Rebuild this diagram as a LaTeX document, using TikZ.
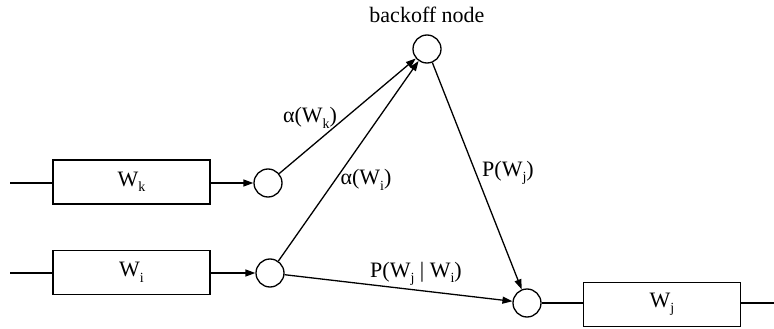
\documentclass[tikz,border=0pt]{standalone}
\usepackage{fontspec}
\setmainfont{Liberation Serif}
\usetikzlibrary{arrows.meta}
\newcommand{\lowsub}[1]{\raisebox{-0.55ex}{\fontsize{14}{14}\selectfont #1}}

\begin{document}
\fontsize{22}{25}\selectfont
\begin{tikzpicture}[x=1pt,y=-1pt,line width=1.3pt,
    word/.style={draw,rectangle,minimum width=157pt,minimum height=44pt,inner sep=0pt},
    junction/.style={draw,circle,minimum size=28pt,inner sep=0pt},
    flow/.style={-{Triangle[length=10pt,width=7pt]}}]
  \useasboundingbox (0,0) rectangle (774,329);
  % word history boxes
  \node[word] (wk) at (131.5,182) {W\lowsub{k}};
  \node[word] (wi) at (131.5,272.5) {W\lowsub{i}};
  \node[word] (wj) at (662,304.5) {W\lowsub{j}};
  % junctions
  \node[junction] (ck) at (268,183) {};
  \node[junction] (ci) at (270,273) {};
  \node[junction] (back) at (427,49) {};
  \node[junction] (cj) at (527,303) {};
  \node (backlbl) at (427,15) {backoff node};
  % free ends
  \coordinate (ink) at (10,183);
  \coordinate (ini) at (10,273);
  \coordinate (outj) at (774,303);
  \draw (ink) -- (wk.west |- ink);
  \draw (ini) -- (wi.west |- ini);
  \draw (wj.east |- outj) -- (outj);
  \draw[flow] (wk.east |- ck) -- (ck);
  \draw[flow] (wi.east |- ci) -- (ci);
  \draw[flow] (ck) -- (back);
  \draw[flow] (ci) -- (back);
  \draw[flow] (back) -- (cj);
  \draw[flow] (ci) -- (cj);
  \draw (cj) -- (wj.west |- cj);
  % arc labels
  \node (ak) at (310,118) {α(W\lowsub{k})};
  \node (ai) at (366,180) {α(W\lowsub{i})};
  \node (pj) at (508,173) {P(W\lowsub{j})};
  \node (pji) at (416,274) {P(W\lowsub{j} | W\lowsub{i})};
\end{tikzpicture}
\end{document}
